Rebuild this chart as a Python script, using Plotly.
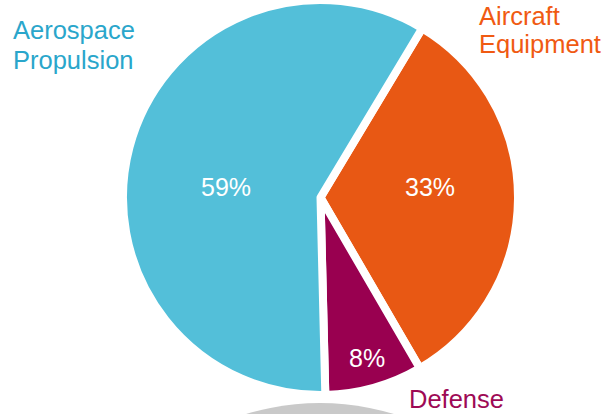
import plotly.graph_objects as go

# Data
segments = ["Aircraft Equipment", "Defense", "Aerospace Propulsion"]
shares = [33, 8, 59]
slice_colors = ["#E85814", "#990050", "#53BFD9"]

# Outside label text (per line) and colours
label_lines = [
    ("Aerospace", "#2AA6CB"),
    ("Propulsion", "#2AA6CB"),
    ("Aircraft", "#F05A12"),
    ("Equipment", "#F05A12"),
    ("Defense", "#9E0A55"),
]

W, H = 609, 414
cx, cy, r = 320.5, 197.5, 197.5
FONT = "Liberation Sans, Arial, sans-serif"

fig = go.Figure()
fig.add_trace(go.Pie(
    labels=segments,
    values=shares,
    sort=False,
    direction="clockwise",
    rotation=31,
    marker=dict(colors=slice_colors, line=dict(color="white", width=8)),
    textinfo="none",
    hoverinfo="label+percent",
    showlegend=False,
    domain=dict(x=[(cx - r) / W, (cx + r) / W], y=[1 - (cy + r) / H, 1 - (cy - r) / H]),
))

# percentage labels inside slices (pixel centres)
pct_pos = [(430, 187), (366.7, 358), (225.5, 187)]
total = sum(shares)
for v, (px, py) in zip(shares, pct_pos):
    fig.add_annotation(
        x=px / W, y=1 - py / H, xref="paper", yref="paper",
        xanchor="center", yanchor="middle", showarrow=False,
        text=f"{round(100 * v / total)}%",
        font=dict(size=25, color="white", family=FONT), borderpad=0,
    )

# outside label positions (pixel x left, pixel y of line middle)
pos = [(12, 30), (12, 60), (478, 16), (478, 43.5), (408, 398.5)]
for (txt, col), (px, py) in zip(label_lines, pos):
    fig.add_annotation(
        x=px / W, y=1 - py / H, xref="paper", yref="paper",
        xanchor="left", yanchor="middle", showarrow=False,
        text=txt, font=dict(size=25.5, color=col, family=FONT),
        borderpad=0,
    )

# partially visible grey disc at the bottom edge
gR, gcx, gtop = 254, 320, 403
fig.add_shape(
    type="circle", xref="paper", yref="paper", layer="below",
    x0=(gcx - gR) / W, x1=(gcx + gR) / W,
    y0=1 - (gtop + 2 * gR) / H, y1=1 - gtop / H,
    fillcolor="#C9C9C9", line=dict(width=0),
)

fig.update_layout(
    width=W, height=H,
    margin=dict(l=0, r=0, t=0, b=0),
    paper_bgcolor="white", plot_bgcolor="white",
    font=dict(family=FONT),
)

fig.write_html(
    "out.html",
    config={"displayModeBar": False},
    post_script="document.body.style.margin='0';document.body.style.overflow='hidden';",
)
